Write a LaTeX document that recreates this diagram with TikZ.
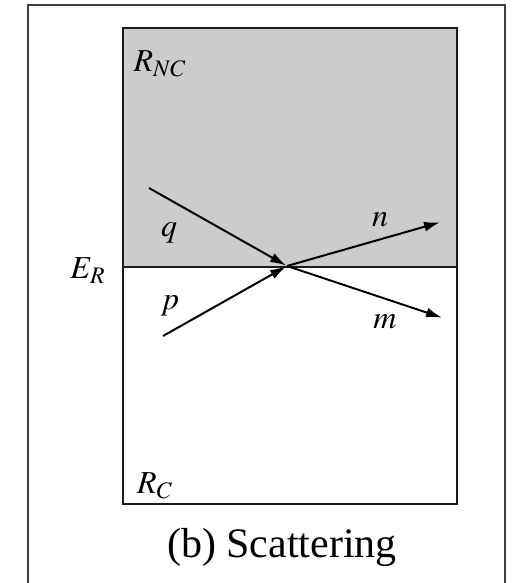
\documentclass[tikz,border=0pt]{standalone}
\usepackage{mathptmx}
\usepackage{fontspec}
\setmainfont{Liberation Serif}
\usetikzlibrary{arrows.meta, positioning}
\definecolor{regiongray}{HTML}{CCCCCC}
\tikzset{
  >=latex,
  % riquadri
  frame/.style={draw=black!75, line width=0.8pt},
  region/.style={draw=black!90, line width=1.1pt},
  % frecce delle particelle
  ray/.style={-{Latex[length=8pt,width=5pt]}, line width=1pt, shorten >=0.5pt},
  lbl/.style={inner sep=0pt, font=\fontsize{16}{18}\selectfont},
  caption/.style={inner sep=0pt, font=\fontsize{21}{25}\selectfont}
}

\begin{document}
\begin{tikzpicture}[x=0.5pt, y=-0.5pt]
    \useasboundingbox (0,0) rectangle (514,583);
    \draw[frame] (28,583) -- (28,5) -- (505,5) -- (505,583);
    \fill[regiongray] (123,28) rectangle (457,267);
    \draw[region] (123,28) rectangle (457,504);
    \draw[region] (123,267) -- (457,267);
    % punto di scattering
    \coordinate (X) at (287,266);
    \coordinate (qs) at (149,188);
    \coordinate (ps) at (163,336);
    \coordinate (ne) at (441,222);
    \coordinate (me) at (443,318);
    \draw[ray] (qs) -- (X);
    \draw[ray] (ps) -- (X);
    \draw[ray] (X) -- (ne);
    \draw[ray] (X) -- (me);
    \node[lbl] (RNC) at (160,64) {$R_{NC}$};
    \node[lbl] (RC) at (155,486) {$R_C$};
    \node[lbl] (ER) at (88,271) {$E_R$};
    \node[lbl] (q) at (169,233) {$q$};
    \node[lbl] (p) at (170,306) {$p$};
    \node[lbl] (n) at (380,220) {$n$};
    \node[lbl] (m) at (385,322) {$m$};
    \node[caption] (cap) at (282,547) {(b) Scattering};
\end{tikzpicture}
\end{document}
